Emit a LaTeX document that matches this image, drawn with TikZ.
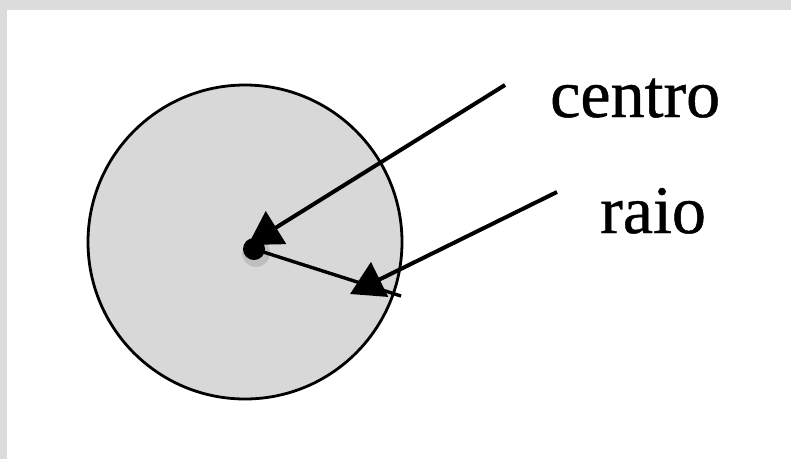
\documentclass[tikz,border=0pt]{standalone}
\usepackage{fontspec}
\setmainfont[FakeBold=0.7]{Liberation Serif}
\usetikzlibrary{arrows.meta}
\definecolor{framegray}{RGB}{220,220,220}
\definecolor{discgray}{RGB}{216,216,216}
\tikzset{
  disc/.style={draw=black, line width=2.8pt, fill=discgray},
  pointer/.style={line width=4pt, -{Triangle[length=33pt,width=38pt]}},
  radiusline/.style={line width=3.4pt},
  label/.style={font=\fontsize{68}{80}\selectfont, inner sep=0pt, anchor=base west},
}
\begin{document}
\begin{tikzpicture}[x=1pt,y=-1pt]
  \useasboundingbox (0,0) rectangle (791,459);
  \fill[framegray] (0,0) rectangle (791,459);
  \fill[white] (7,10) rectangle (791,459);
  % disc
  \node[disc, circle, minimum size=314pt, inner sep=0pt] (disc) at (245,242) {};
  % centre dot with soft halo
  \fill[black!35, opacity=0.5] (256,253) circle (14pt);
  \node[circle, fill=black, minimum size=22pt, inner sep=0pt] (dot) at (254,249) {};
  \coordinate (rim) at (401,296);
  \draw[radiusline] (dot.center) -- (rim);
  % labels
  \node[label] (centro) at (550,117) {centro};
  \node[label] (raio) at (600,233) {raio};
  \coordinate (cstart) at (505,85);
  \coordinate (rstart) at (557,192);
  \coordinate (ctip) at (248,245);
  \coordinate (rtip) at (350,294);
  \draw[pointer] (cstart) -- (ctip);
  \draw[pointer] (rstart) -- (rtip);
\end{tikzpicture}
\end{document}
